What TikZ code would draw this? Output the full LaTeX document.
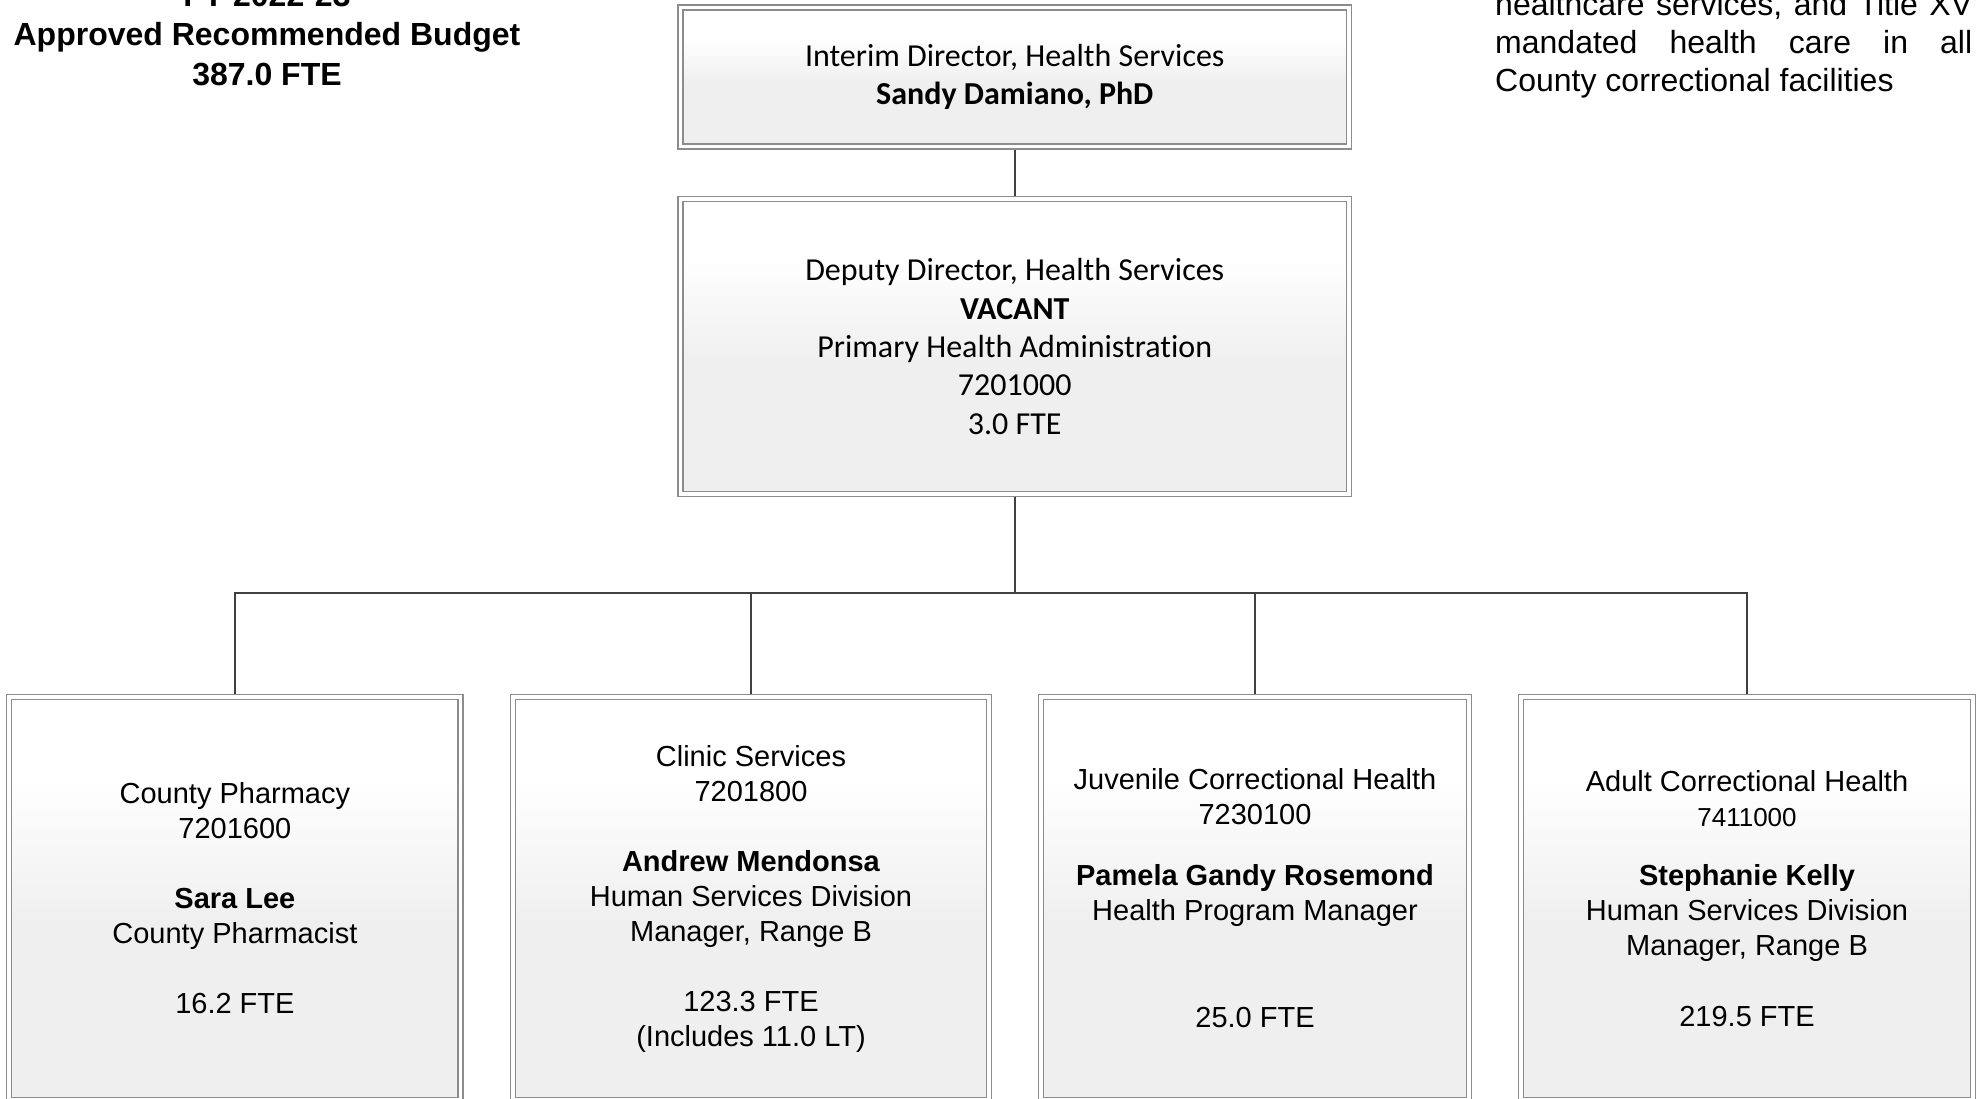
\documentclass[tikz,border=0pt]{standalone}
\usepackage{fontspec}
\setmainfont{Liberation Sans}
\newfontfamily\calfont[Ligatures=NoCommon]{Carlito}
\definecolor{boxgray}{RGB}{239,239,239}
\definecolor{bordergray}{RGB}{140,140,140}
\definecolor{linegray}{RGB}{64,64,64}
\pgfdeclareverticalshading{boxshade}{100bp}{color(0bp)=(boxgray); color(47bp)=(boxgray); color(65bp)=(white); color(100bp)=(white)}
\pgfdeclarelayer{bg}
\pgfsetlayers{bg,main}
\tikzset{
  orgbox/.style={draw=bordergray, line width=1.3pt, double=white, double distance=3.6pt,
    shade, shading=boxshade, inner sep=0pt, align=center},
  topfont/.style={font=\calfont\fontsize{32}{38.3}\selectfont},
  subfont/.style={font=\fontsize{29}{35}\selectfont},
  conn/.style={draw=linegray, line width=2.2pt},
}
\begin{document}
\begin{tikzpicture}[x=1pt,y=-1pt]
\useasboundingbox (0,0) rectangle (1981,1099);

\node[font=\bfseries\fontsize{32}{39.5}\selectfont, align=center, inner sep=0pt] (title) at (267,35)
  {FY 2022-23\\Approved Recommended Budget\\387.0 FTE};

\node[font=\fontsize{32}{38}\selectfont, align=left, inner sep=0pt, anchor=west] (mission) at (1495,45)
  {\hbox to 477pt{healthcare\hfill services,\hfill and\hfill Title\hfill XV}\\
   \hbox to 477pt{mandated\hfill health\hfill care\hfill in\hfill all}\\
   County correctional facilities};

\node[orgbox, topfont, minimum width=668.5pt, minimum height=139pt] (dir) at (1014.75,77)
  {Interim Director, Health Services\\\textbf{Sandy Damiano, PhD}};

\node[orgbox, topfont, minimum width=668.5pt, minimum height=295pt] (dep) at (1014.75,346.5)
  {Deputy Director, Health Services\\\textbf{VACANT}\\Primary Health Administration\\7201000\\3.0 FTE};

\node[orgbox, subfont, minimum width=451.3pt, minimum height=403pt] (pharm) at (234.9,898.5)
  {County Pharmacy\\7201600\\[35pt]\textbf{Sara Lee}\\County Pharmacist\\[35pt]16.2 FTE};

\node[orgbox, subfont, minimum width=475.7pt, minimum height=403pt] (clinic) at (751,898.5)
  {Clinic Services\\7201800\\[35pt]\textbf{Andrew Mendonsa}\\Human Services Division\\Manager, Range B\\[35pt]123.3 FTE\\(Includes 11.0 LT)};

\node[orgbox, subfont, minimum width=428pt, minimum height=403pt] (juv) at (1255,898.5)
  {Juvenile Correctional Health\\7230100\\[26pt]\textbf{Pamela Gandy Rosemond}\\Health Program Manager\\[72pt]25.0 FTE};

\node[orgbox, subfont, minimum width=452pt, minimum height=403pt] (adult) at (1747,898.5)
  {Adult Correctional Health\\{\fontsize{26}{35}\selectfont 7411000}\\[24pt]\textbf{Stephanie Kelly}\\Human Services Division\\Manager, Range B\\[36pt]219.5 FTE};

\begin{pgfonlayer}{bg}
  \draw[conn] (dir.south) -- (dep.north);
  \coordinate (bar) at (1014.75,593);
  \draw[conn] (dep.south) -- (bar);
  \foreach \c in {pharm,clinic,juv,adult} \draw[conn] (bar) -| (\c.north);
\end{pgfonlayer}
\end{tikzpicture}
\end{document}
